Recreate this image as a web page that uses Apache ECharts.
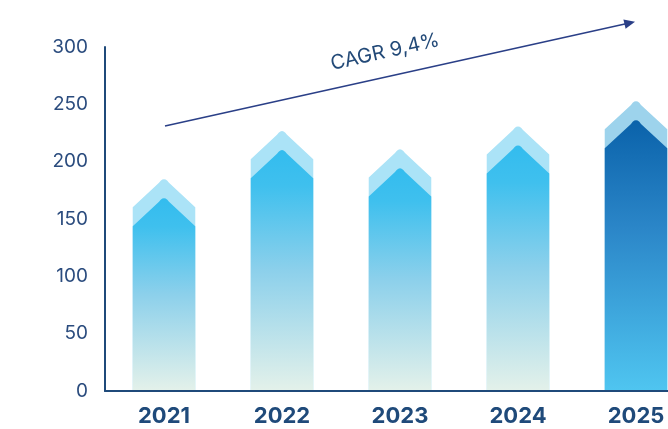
<!DOCTYPE html>
<html>
<head>
<meta charset="utf-8">
<script src="https://cdn.jsdelivr.net/npm/echarts@6/dist/echarts.min.js"></script>
<style>
html,body{margin:0;padding:0;background:#fff;overflow:hidden;width:668px;height:429px;}
#c{width:700px;height:429px;}
</style>
</head>
<body>
<div id="c"></div>
<script>
var years = ['2021', '2022', '2023', '2024', '2025'];
var values = [169, 211, 195, 215, 237];
var yTicks = [0, 50, 100, 150, 200, 250, 300];
var cagrLabel = 'CAGR 9,4%';

var chart = echarts.init(document.getElementById('c'));
var navy = '#1F4A7A';

function arrowPoints(cx, halfW, apexY, baseY, offset) {
  var h = halfW * 0.93;
  var ay = apexY - offset;
  var sy = ay + h;
  var r = 5;
  var s = h / halfW;
  var pts = [[cx - halfW, baseY], [cx - halfW, sy]];
  var p0 = [cx - r, ay + r * s];
  var p2 = [cx + r, ay + r * s];
  var c = [cx, ay - r * s * 0.6];
  for (var i = 0; i <= 6; i++) {
    var t = i / 6;
    var x = (1 - t) * (1 - t) * p0[0] + 2 * (1 - t) * t * c[0] + t * t * p2[0];
    var y = (1 - t) * (1 - t) * p0[1] + 2 * (1 - t) * t * c[1] + t * t * p2[1];
    pts.push([x, y]);
  }
  pts.push([cx + halfW, sy]);
  pts.push([cx + halfW, baseY]);
  return pts;
}

chart.setOption({
  animation: false,
  grid: { left: 105, width: 590, top: 47, height: 344, containLabel: false },
  xAxis: {
    type: 'category',
    data: years,
    axisLine: { lineStyle: { color: navy, width: 2 } },
    axisTick: { show: false },
    axisLabel: { color: navy, fontSize: 22, fontWeight: 'bold', fontFamily: 'Inter', margin: 14 }
  },
  yAxis: {
    type: 'value',
    min: 0, max: 300, interval: 50,
    splitLine: { show: false },
    axisLine: { show: true, lineStyle: { color: navy, width: 2 } },
    axisTick: { show: false },
    axisLabel: { color: '#2B4C7E', fontSize: 19, fontFamily: 'Inter', margin: 17 }
  },
  series: [{
    type: 'custom',
    data: values.map(function (v, i) { return [i, v]; }),
    encode: { x: 0, y: 1 },
    clip: false,
    renderItem: function (params, api) {
      var idx = api.value(0);
      var top = api.coord([idx, api.value(1)]);
      var base = api.coord([idx, 0]);
      var band = api.size([1, 0])[0];
      var halfW = band * 0.53 / 2;
      var last = idx === values.length - 1;
      var lightColor = last ? '#9DD3EC' : '#ABE3F7';
      var grad = last
        ? new echarts.graphic.LinearGradient(0, 0, 0, 1, [
            { offset: 0, color: '#0A62AA' }, { offset: 0.4, color: '#2B86C8' }, { offset: 1, color: '#4FC5F0' }])
        : new echarts.graphic.LinearGradient(0, 0, 0, 1, [
            { offset: 0, color: '#33BCEE' }, { offset: 0.15, color: '#3FC0EE' }, { offset: 0.5, color: '#8CD0EB' }, { offset: 1, color: '#E3F1EA' }]);
      return {
        type: 'group',
        children: [
          { type: 'polygon', shape: { points: arrowPoints(top[0], halfW, top[1], base[1] - 1, 19) }, style: { fill: lightColor } },
          { type: 'polygon', shape: { points: arrowPoints(top[0], halfW, top[1], base[1] - 1, 0) }, style: { fill: grad } }
        ]
      };
    },
    z: 1
  }],
  graphic: [
    { type: 'line', shape: { x1: 165, y1: 126, x2: 626, y2: 23.8 }, style: { stroke: '#2A3F87', lineWidth: 1.6 }, z: 10 },
    { type: 'polygon', shape: { points: [[635, 21.7], [623.4, 19.4], [625.6, 28.7]] }, style: { fill: '#2A3F87' }, z: 10 },
    { type: 'text', x: 385, y: 52, rotation: 0.222, style: { text: cagrLabel, fill: '#234A78', fontSize: 20, fontFamily: 'Inter', align: 'center', verticalAlign: 'middle' }, z: 10 }
  ]
});
</script>
</body>
</html>
